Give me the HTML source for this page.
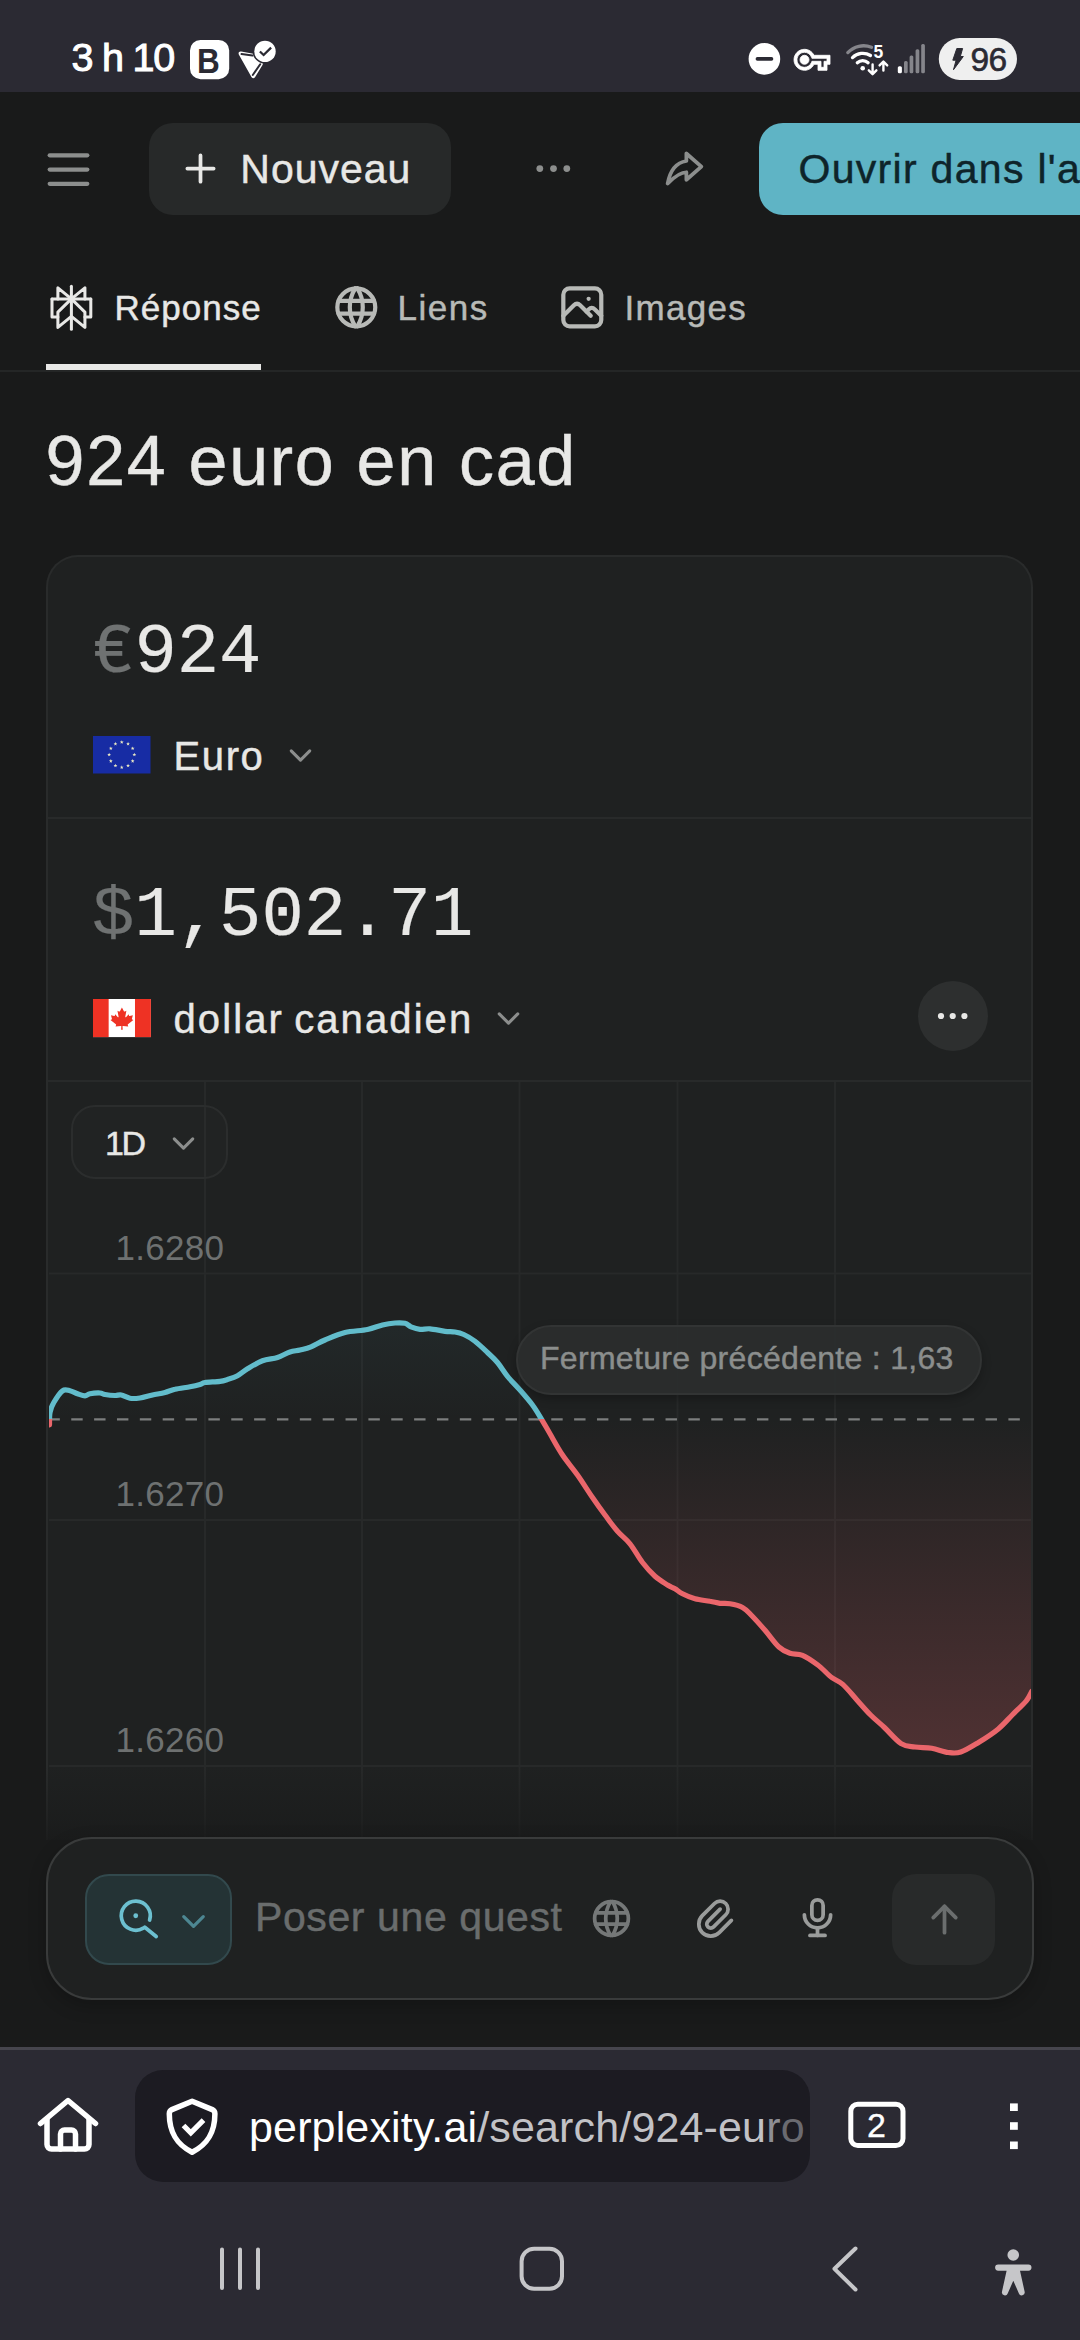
<!DOCTYPE html>
<html lang="fr">
<head>
<meta charset="utf-8">
<meta name="viewport" content="width=1080">
<title>924 euro en cad</title>
<style>
*{box-sizing:border-box;margin:0;padding:0}
html,body{width:1080px;height:2340px;overflow:hidden;background:#191a1a}
body{position:relative;font-family:"Liberation Sans",sans-serif;color:#e8e8e6}
.abs{position:absolute}
.t{position:absolute;white-space:pre;line-height:1}
.w{-webkit-text-stroke:.45px currentColor}
.amt{font-size:70.6px;color:#e8e8e6;font-family:"Liberation Mono",monospace;-webkit-text-stroke:.2px currentColor}
.amt .cur{color:#6f7272}
svg{position:absolute;overflow:visible}
.ic{fill:none;stroke-width:2;stroke-linecap:round;stroke-linejoin:round}
/* status bar */
#status{left:0;top:0;width:1080px;height:92px;background:#2b2a33}
/* header */
#btn-new{left:149px;top:123px;width:302px;height:92px;border-radius:24px;background:#272929}
#btn-open{left:759px;top:123px;width:360px;height:92px;border-radius:24px;background:#5fb4c5}
/* tabs */
#tab-line{left:0;top:370px;width:1080px;height:2px;background:#242626}
#tab-ul{left:46px;top:364px;width:215px;height:5.5px;background:#e8e8e6}
/* card */
#card{left:46px;top:555px;width:987px;height:1400px;border-radius:32px 32px 0 0;background:#1f2121;border:2px solid #292b2b;border-bottom:none}
.hsep{left:48px;width:983px;height:2px;background:#282a2a}
/* input */
#fade{left:0;top:1766px;width:1080px;height:74px;background:linear-gradient(to bottom,rgba(25,26,26,0),rgba(25,26,26,.5) 70%,rgba(25,26,26,.8))}
#below{left:0;top:1840px;width:1080px;height:210px;background:#191a1a}
#input{left:46px;top:1837px;width:988px;height:163px;border-radius:46px;background:#1f2121;border:2px solid #393b3b;box-shadow:0 6px 18px rgba(0,0,0,.22)}
#mode{left:85px;top:1874px;width:147px;height:91px;border-radius:24px;background:#243335;border:2px solid #32494d}
#send{left:892px;top:1874px;width:103px;height:91px;border-radius:24px;background:#282a2a}
/* browser bar */
#bbar{left:0;top:2047px;width:1080px;height:293px;background:#2b2a33;border-top:3px solid #46454d}
#url{left:135px;top:2070px;width:675px;height:112px;border-radius:28px;background:#1c1b22;overflow:hidden}
</style>
</head>
<body>
<!-- STATUS BAR -->
<div id="status" class="abs"></div>
<div class="t" id="clock" style="left:71.5px;top:38px;font-size:39.5px;color:#fff;letter-spacing:-1px;word-spacing:-.5px;-webkit-text-stroke:1px #fff">3 h 10</div>
<svg id="st-left" style="left:180px;top:30px" width="110" height="60" viewBox="180 30 110 60">
  <rect x="190" y="39.900" width="39.200" height="39.300" rx="10.500" fill="#fff"/>
  <path d="M241.200 51.500L262.500 55.500Q264.500 62 262.500 65L255 77.200Q253.300 79.500 251.600 77.200L238.800 54.500Q237.800 51 241.200 51.500Z" fill="#fff"/>
  <path d="M241.500 54.100L252.500 55.600" fill="none" stroke="#2b2a33" stroke-width="2" stroke-linecap="round"/>
  <path d="M252.800 75L260.200 64.200" fill="none" stroke="#2b2a33" stroke-width="2" stroke-linecap="round"/>
  <circle cx="265" cy="51.400" r="12.300" fill="#2b2a33"/>
  <circle cx="265" cy="51.400" r="10.700" fill="#fff"/>
  <path d="M259.900 51.500l3.700 3.500l7.500 -7.400" fill="none" stroke="#2b2a33" stroke-width="2.300"/>
</svg>
<div class="t" id="t-b" style="left:197.3px;top:42.5px;font-size:35px;font-weight:700;color:#2b2a33;transform:scaleX(.9);transform-origin:0 0">B</div>
<svg id="st-right" style="left:740px;top:30px" width="300" height="60" viewBox="740 30 300 60">
  <circle cx="764.400" cy="58.900" r="15.800" fill="#fff"/>
  <rect x="755.600" y="57.100" width="17.700" height="3.600" rx="1.800" fill="#2b2a33"/>
  <g transform="translate(794 41.800) scale(1.500)"><circle cx="7" cy="12" r="1.7" fill="#fff"/><path fill="#fff" stroke="#fff" stroke-width=".55" stroke-linejoin="round" d="M22 19h-6v-4h-2.680c-1.140 2.420-3.600 4-6.320 4-3.860 0-7-3.140-7-7s3.140-7 7-7c2.720 0 5.170 1.580 6.320 4H24v6h-2v4zm-4-2h2v-4h2v-2H11.940l-.230-.670C11.010 8.340 9.110 7 7 7c-2.760 0-5 2.240-5 5s2.240 5 5 5c2.110 0 4.010-1.340 4.710-3.330l.230-.670H18v4zM7 15c-1.650 0-3-1.350-3-3s1.350-3 3-3 3 1.350 3 3-1.350 3-3 3zm0-4c-.550 0-1 .450-1 1s.450 1 1 1 1-.450 1-1-.450-1-1-1z"/></g>
  <g fill="none" stroke-linecap="round" stroke-width="3.300">
    <path d="M847.800 52.600A21.500 21.500 0 0 1 871.500 47.300" stroke="#85858b"/>
    <path d="M852.500 57.600A14.800 14.800 0 0 1 870.500 55.500" stroke="#fff"/>
    <path d="M857.300 62.700A8 8 0 0 1 868.100 62.700" stroke="#fff"/>
  </g>
  <circle cx="862.700" cy="68.200" r="2.300" fill="#fff"/>
  <g fill="none" stroke="#fff" stroke-width="2.400" stroke-linecap="round" stroke-linejoin="round">
    <path d="M872.600 64.500v9M868.800 70.300l3.800 3.900l3.800 -3.900"/>
    <path d="M883.400 70.600v-9M879.600 65.400l3.800 -3.900l3.800 3.900"/>
  </g>
  <g fill="#85858b">
    <rect x="897.800" y="66.300" width="4.100" height="6.900" rx="1.500" fill="#fff"/>
    <rect x="904" y="61.100" width="3.700" height="12.100" rx="1.500"/>
    <rect x="909.600" y="55.500" width="3.700" height="17.700" rx="1.500"/>
    <rect x="915.600" y="49.300" width="3.700" height="23.900" rx="1.500"/>
    <rect x="921.200" y="44.100" width="3.700" height="29.100" rx="1.500"/>
  </g>
  <rect x="938.800" y="38.100" width="78.200" height="41.800" rx="20.900" fill="#efefef"/>
  <path d="M956.800 48.500h5.800l-2.300 8h3l-9.800 13.200l2.600 -9.500h-3.300z" fill="#2b2a33" stroke="#2b2a33" stroke-width="1" stroke-linejoin="round"/>
</svg>
<div class="t" id="t-5" style="left:873.500px;top:43.500px;font-size:17.500px;font-weight:700;color:#fff">5</div>
<div class="t" id="batt" style="left:970.5px;top:43px;font-size:33.5px;color:#2b2a33;letter-spacing:-.6px;-webkit-text-stroke:.6px #2b2a33">96</div>

<!-- HEADER -->
<svg id="i-menu" style="left:0;top:92px" width="140" height="150" viewBox="0 92 140 150"><g stroke="#8c8e8d" stroke-width="4.25" stroke-linecap="round"><line x1="49.7" y1="155.25" x2="87.3" y2="155.25"/><line x1="49.7" y1="169.5" x2="87.3" y2="169.5"/><line x1="49.7" y1="183.75" x2="87.3" y2="183.75"/></g></svg>
<div id="btn-new" class="abs"></div>
<svg id="i-plus" class="ic" stroke-width="1.55" style="left:177.5px;top:146.25px" width="45" height="45" viewBox="0 0 24 24" stroke="#e8e8e6"><path d="M12 5v14M5 12h14"/></svg>
<div class="t w" id="t-new" style="left:240.3px;top:148.5px;font-size:41px;color:#e8e8e6;letter-spacing:1px">Nouveau</div>
<svg id="i-dots" style="left:531.25px;top:146.25px" width="45" height="45" viewBox="0 0 24 24" fill="#8c8e8d"><circle cx="4.7" cy="12" r="1.8"/><circle cx="12" cy="12" r="1.8"/><circle cx="19.1" cy="12" r="1.8"/></svg>
<svg id="i-share" class="ic" stroke-width="1.75" style="left:662px;top:146.4px" width="45" height="45" viewBox="0 0 24 24" stroke="#8c8e8d"><path d="M13 4v4c-6.575 1.028 -9.02 6.788 -10 12c-.037 .206 5.384 -5.962 10 -6v4l8 -7l-8 -7z"/></svg>
<div id="btn-open" class="abs"></div>
<div class="t w" id="t-open" style="left:798.5px;top:148.5px;font-size:41px;color:#0e242a;letter-spacing:1.3px">Ouvrir dans l'a</div>

<!-- TABS -->
<svg id="i-pplx" style="left:48.2px;top:283.85px" width="46.8" height="46.8" viewBox="0 0 24 24" fill="none" stroke="#e8e8e6" stroke-width="1.55" stroke-linejoin="round" stroke-linecap="round"><path d="M12 1.100V23.200"/><path d="M2.050 7.670H21.950"/><path d="M5.070 7.670V1.950L12 7.670L18.930 1.950V7.670"/><path d="M5.070 16.900H2.050V7.670M18.930 16.900H21.950V7.670"/><path d="M12 7.670L5.070 14.400V22.250L12 16.600L18.930 22.250V14.400L12 7.670"/></svg>
<div class="t w" id="t-rep" style="left:114.5px;top:290px;font-size:35px;color:#e8e8e6;letter-spacing:1px">Réponse</div>
<svg id="i-globe1" class="ic" stroke-width="1.65" style="left:330.5px;top:282.4px" width="50.6" height="50.6" viewBox="0 0 24 24" stroke="#b8bab7"><path d="M3 12a9 9 0 1 0 18 0a9 9 0 0 0 -18 0"/><path d="M3.6 9h16.8"/><path d="M3.6 15h16.8"/><path d="M11.5 3a17 17 0 0 0 0 18"/><path d="M12.5 3a17 17 0 0 1 0 18"/></svg>
<div class="t w" id="t-liens" style="left:397.5px;top:290px;font-size:35px;color:#b8bab7;letter-spacing:1.5px">Liens</div>
<svg id="i-photo" class="ic" stroke-width="1.65" style="left:556.5px;top:282.4px" width="50.6" height="50.6" viewBox="0 0 24 24" stroke="#b8bab7"><path d="M15 8h.01"/><path d="M3 6a3 3 0 0 1 3 -3h12a3 3 0 0 1 3 3v12a3 3 0 0 1 -3 3h-12a3 3 0 0 1 -3 -3v-12z"/><path d="M3 16l5 -5c.928 -.893 2.072 -.893 3 0l5 5"/><path d="M14 14l1 -1c.928 -.893 2.072 -.893 3 0l3 3"/></svg>
<div class="t w" id="t-img" style="left:624.5px;top:290px;font-size:35px;color:#b8bab7;letter-spacing:1.3px">Images</div>
<div id="tab-line" class="abs"></div>
<div id="tab-ul" class="abs"></div>

<!-- TITLE -->
<div class="t w" id="title" style="left:45.5px;top:426px;font-size:70px;color:#e8e8e6;letter-spacing:1.7px">924 euro en cad</div>

<!-- CARD -->
<div id="card" class="abs"></div>
<div class="t amt" id="amt1" style="left:92px;top:618px"><span class="cur">€</span>924</div>
<svg id="f-eu" style="left:93.25px;top:736.25px" width="57.5" height="37.5" viewBox="0 0 57.5 37.5"><rect width="57.5" height="37.5" fill="#172ca4"/><g fill="#e9e7c4"><polygon points="28.75,4.15 29.25,5.46 30.65,5.53 29.56,6.41 29.93,7.77 28.75,7.00 27.57,7.77 27.94,6.41 26.85,5.53 28.25,5.46"/><polygon points="35.05,5.84 35.55,7.15 36.95,7.22 35.86,8.10 36.23,9.46 35.05,8.69 33.87,9.46 34.24,8.10 33.15,7.22 34.55,7.15"/><polygon points="39.66,10.45 40.16,11.76 41.56,11.83 40.47,12.71 40.84,14.07 39.66,13.30 38.49,14.07 38.85,12.71 37.76,11.83 39.16,11.76"/><polygon points="41.35,16.75 41.85,18.06 43.25,18.13 42.16,19.01 42.53,20.37 41.35,19.60 40.17,20.37 40.54,19.01 39.45,18.13 40.85,18.06"/><polygon points="39.66,23.05 40.16,24.36 41.56,24.43 40.47,25.31 40.84,26.67 39.66,25.90 38.49,26.67 38.85,25.31 37.76,24.43 39.16,24.36"/><polygon points="35.05,27.66 35.55,28.97 36.95,29.04 35.86,29.92 36.23,31.28 35.05,30.51 33.87,31.28 34.24,29.92 33.15,29.04 34.55,28.97"/><polygon points="28.75,29.35 29.25,30.66 30.65,30.73 29.56,31.61 29.93,32.97 28.75,32.20 27.57,32.97 27.94,31.61 26.85,30.73 28.25,30.66"/><polygon points="22.45,27.66 22.95,28.97 24.35,29.04 23.26,29.92 23.63,31.28 22.45,30.51 21.27,31.28 21.64,29.92 20.55,29.04 21.95,28.97"/><polygon points="17.84,23.05 18.34,24.36 19.74,24.43 18.65,25.31 19.01,26.67 17.84,25.90 16.66,26.67 17.03,25.31 15.94,24.43 17.34,24.36"/><polygon points="16.15,16.75 16.65,18.06 18.05,18.13 16.96,19.01 17.33,20.37 16.15,19.60 14.97,20.37 15.34,19.01 14.25,18.13 15.65,18.06"/><polygon points="17.84,10.45 18.34,11.76 19.74,11.83 18.65,12.71 19.01,14.07 17.84,13.30 16.66,14.07 17.03,12.71 15.94,11.83 17.34,11.76"/><polygon points="22.45,5.84 22.95,7.15 24.35,7.22 23.26,8.10 23.63,9.46 22.45,8.69 21.27,9.46 21.64,8.10 20.55,7.22 21.95,7.15"/></g></svg>
<div class="t w" id="cur1" style="left:173.5px;top:735.5px;font-size:40px;color:#e8e8e6;letter-spacing:1.6px">Euro</div>
<svg id="ch1" class="ic" style="left:282px;top:737px" width="37" height="37" viewBox="0 0 24 24" stroke="#8c8e8d"><path d="M6 9l6 6l6 -6"/></svg>
<div class="abs hsep" style="top:817px"></div>
<div class="t amt" id="amt2" style="left:92px;top:881px"><span class="cur">$</span>1,502.71</div>
<svg id="f-ca" style="left:93px;top:998.75px" width="57.9" height="38.1" viewBox="0 0 58.25 38.25" preserveAspectRatio="none"><rect width="58.25" height="38.25" fill="#fff"/><rect width="15.75" height="38.25" fill="#ee3224"/><rect x="42.25" width="16" height="38.25" fill="#ee3224"/><path fill="#ee3224" d="M29.1 8.5l-2 3.8c-.2.4-.6.4-1 .2l-1.500-.8 1.100 5.800c.2 1-.5 1-.9.600l-2.500-2.800-.4 1.400c0 .2-.3.400-.6.300l-3.200-.7.800 3c.2.700.3 1-.2 1.200l-1.100.5 5.400 4.400c.2.200.3.500.2.800l-.5 1.500 5.300-.6c.2 0 .5.200.5.400l-.2 3.500h1.600l-.2-3.500c0-.2.300-.4.500-.4l5.300.6-.5-1.500c-.1-.3 0-.6.200-.8l5.400-4.400-1.100-.5c-.5-.2-.4-.5-.2-1.200l.8-3-3.200.7c-.3.100-.6-.1-.6-.3l-.4-1.400-2.500 2.800c-.4.400-1.100.4-.9-.6l1.100-5.800-1.500.8c-.4.200-.8.200-1-.2z"/></svg>
<div class="t w" id="cur2" style="left:173.5px;top:999px;font-size:40px;color:#e8e8e6;letter-spacing:2.1px;word-spacing:-3px">dollar canadien</div>
<svg id="ch2" class="ic" style="left:490px;top:1000px" width="37" height="37" viewBox="0 0 24 24" stroke="#8c8e8d"><path d="M6 9l6 6l6 -6"/></svg>
<div class="abs" id="more" style="left:917.5px;top:981px;width:70px;height:70px;border-radius:50%;background:#2d2f2f"></div>
<svg id="more-dots" style="left:917.5px;top:981px" width="70" height="70" viewBox="0 0 70 70" fill="#e8e8e6"><circle cx="23" cy="35" r="3.1"/><circle cx="34.7" cy="35" r="3.1"/><circle cx="46.4" cy="35" r="3.1"/></svg>
<div class="abs hsep" style="top:1080px"></div>

<!-- CHART -->
<svg id="chart" style="left:0;top:0" width="1080" height="2340" viewBox="0 0 1080 2340">
  <defs>
    <linearGradient id="gfill" gradientUnits="userSpaceOnUse" x1="0" y1="1323" x2="0" y2="1753">
      <stop offset="0" stop-color="#5fb8c8" stop-opacity=".05"/>
      <stop offset=".223" stop-color="#5fb8c8" stop-opacity="0"/>
      <stop offset=".223" stop-color="#e8646a" stop-opacity="0"/>
      <stop offset="1" stop-color="#e8646a" stop-opacity=".24"/>
    </linearGradient>
    <linearGradient id="gline" gradientUnits="userSpaceOnUse" x1="0" y1="1323" x2="0" y2="1753">
      <stop offset=".223" stop-color="#62bccb"/>
      <stop offset=".223" stop-color="#ea666b"/>
    </linearGradient>
    <clipPath id="cclip"><rect x="49" y="1082" width="982" height="760"/></clipPath>
  </defs>
  <g stroke="#272929" stroke-width="2">
    <line x1="205" y1="1082" x2="205" y2="1840"/>
    <line x1="362" y1="1082" x2="362" y2="1840"/>
    <line x1="519.5" y1="1082" x2="519.5" y2="1840"/>
    <line x1="677.5" y1="1082" x2="677.5" y2="1840"/>
    <line x1="835" y1="1082" x2="835" y2="1840"/>
    <line x1="49" y1="1273.5" x2="1031" y2="1273.5"/>
    <line x1="49" y1="1520" x2="1031" y2="1520"/>
    <line x1="49" y1="1766" x2="1031" y2="1766"/>
  </g>
  <g clip-path="url(#cclip)">
    <path id="area" fill="url(#gfill)" d="M49.5 1425.0C49.6 1422.9 49.3 1416.2 50.0 1412.5C50.7 1408.8 51.7 1406.1 53.8 1402.5C55.9 1398.9 59.8 1392.8 62.5 1390.8C65.2 1388.8 67.5 1390.3 70.0 1390.8C72.5 1391.3 75.0 1393.0 77.5 1393.8C80.0 1394.6 82.9 1395.8 85.0 1395.8C87.1 1395.8 87.5 1394.3 90.0 1393.8C92.5 1393.3 97.5 1392.9 100.0 1393.0C102.5 1393.1 102.5 1394.1 105.0 1394.5C107.5 1394.9 112.3 1395.4 115.0 1395.5C117.7 1395.6 118.8 1394.5 121.3 1395.0C123.8 1395.5 126.9 1397.8 130.0 1398.3C133.1 1398.8 136.2 1398.5 140.0 1398.0C143.8 1397.5 148.3 1395.9 152.5 1395.0C156.7 1394.1 161.2 1393.5 165.0 1392.5C168.8 1391.5 170.8 1390.2 175.0 1389.3C179.2 1388.3 185.8 1387.6 190.0 1386.8C194.2 1386.0 197.5 1385.2 200.0 1384.5C202.5 1383.8 201.7 1383.0 205.0 1382.5C208.3 1382.0 216.2 1381.8 220.0 1381.3C223.8 1380.8 224.6 1380.4 227.5 1379.5C230.4 1378.6 234.2 1377.6 237.5 1375.8C240.8 1374.0 243.3 1371.3 247.5 1368.8C251.7 1366.3 257.5 1362.7 262.5 1360.8C267.5 1358.9 272.9 1359.0 277.5 1357.5C282.1 1356.0 286.2 1353.2 290.0 1352.0C293.8 1350.8 296.5 1350.9 300.0 1350.0C303.5 1349.1 306.8 1348.5 311.0 1346.8C315.2 1345.1 319.3 1342.4 325.0 1340.0C330.7 1337.6 337.9 1334.2 345.0 1332.5C352.1 1330.8 361.2 1330.8 367.5 1329.5C373.8 1328.2 377.9 1326.1 382.5 1325.0C387.1 1323.9 391.2 1323.3 395.0 1323.0C398.8 1322.7 402.3 1322.7 405.0 1323.3C407.7 1323.9 408.5 1325.8 411.0 1326.8C413.5 1327.8 416.8 1329.0 420.0 1329.3C423.2 1329.6 425.8 1328.5 430.0 1328.8C434.2 1329.1 440.8 1330.8 445.0 1331.3C449.2 1331.8 451.9 1331.5 455.0 1332.0C458.1 1332.5 460.5 1333.0 463.8 1334.5C467.1 1336.0 471.1 1338.3 475.0 1341.3C478.9 1344.3 483.8 1349.0 487.5 1352.5C491.2 1356.0 494.2 1358.5 497.5 1362.5C500.8 1366.5 503.8 1371.7 507.5 1376.3C511.2 1380.9 515.8 1385.2 520.0 1390.0C524.2 1394.8 529.0 1400.2 532.5 1405.0C536.0 1409.8 538.4 1414.0 541.3 1418.8C544.2 1423.6 546.5 1427.8 550.0 1433.8C553.5 1439.8 557.9 1448.1 562.5 1455.0C567.1 1461.9 572.5 1467.9 577.5 1475.0C582.5 1482.1 587.9 1490.8 592.5 1497.5C597.1 1504.2 600.8 1509.4 605.0 1515.0C609.2 1520.6 613.3 1526.5 617.5 1531.3C621.7 1536.1 625.8 1538.6 630.0 1543.8C634.2 1549.0 638.3 1557.1 642.5 1562.5C646.7 1567.9 650.8 1572.5 655.0 1576.3C659.2 1580.0 664.2 1582.9 667.5 1585.0C670.8 1587.1 672.5 1587.3 675.0 1588.8C677.5 1590.3 679.2 1592.1 682.5 1593.8C685.8 1595.5 690.4 1597.5 695.0 1598.8C699.6 1600.0 705.8 1600.5 710.0 1601.3C714.2 1602.0 716.7 1602.9 720.0 1603.3C723.3 1603.7 726.2 1603.1 730.0 1603.8C733.8 1604.5 739.0 1605.6 742.5 1607.5C746.0 1609.4 747.4 1611.2 751.1 1615.0C754.9 1618.8 760.4 1625.0 765.0 1630.3C769.6 1635.6 774.7 1643.2 778.9 1647.0C783.1 1650.8 786.1 1651.9 790.0 1653.3C793.9 1654.7 797.9 1653.3 802.5 1655.3C807.1 1657.2 812.9 1661.3 817.8 1665.0C822.7 1668.7 827.5 1674.3 831.7 1677.5C835.9 1680.7 838.6 1680.7 842.8 1684.4C847.0 1688.1 852.1 1694.6 856.7 1699.7C861.3 1704.8 866.0 1710.4 870.6 1715.0C875.2 1719.6 879.3 1722.7 884.4 1727.5C889.5 1732.3 896.0 1740.3 901.1 1743.6C906.2 1746.8 909.9 1746.2 915.0 1747.0C920.1 1747.8 926.2 1747.4 931.7 1748.3C937.2 1749.2 943.4 1751.9 948.3 1752.5C953.1 1753.1 955.7 1753.7 960.8 1752.0C965.9 1750.3 972.6 1746.0 978.9 1742.2C985.1 1738.4 992.8 1733.4 998.3 1728.9C1003.8 1724.4 1007.6 1719.6 1012.2 1715.0C1016.8 1710.4 1022.8 1705.0 1026.1 1701.1C1029.3 1697.2 1030.8 1693.0 1031.7 1691.4L1031.7 1419.3L49.5 1419.3Z"/>
    <line x1="48.4" y1="1419.3" x2="1033" y2="1419.3" stroke="#7c7e7e" stroke-width="2.2" stroke-dasharray="11.43 11.427"/>
    <path id="line" fill="none" stroke="url(#gline)" stroke-width="5.2" stroke-linejoin="round" stroke-linecap="round" d="M49.5 1425.0C49.6 1422.9 49.3 1416.2 50.0 1412.5C50.7 1408.8 51.7 1406.1 53.8 1402.5C55.9 1398.9 59.8 1392.8 62.5 1390.8C65.2 1388.8 67.5 1390.3 70.0 1390.8C72.5 1391.3 75.0 1393.0 77.5 1393.8C80.0 1394.6 82.9 1395.8 85.0 1395.8C87.1 1395.8 87.5 1394.3 90.0 1393.8C92.5 1393.3 97.5 1392.9 100.0 1393.0C102.5 1393.1 102.5 1394.1 105.0 1394.5C107.5 1394.9 112.3 1395.4 115.0 1395.5C117.7 1395.6 118.8 1394.5 121.3 1395.0C123.8 1395.5 126.9 1397.8 130.0 1398.3C133.1 1398.8 136.2 1398.5 140.0 1398.0C143.8 1397.5 148.3 1395.9 152.5 1395.0C156.7 1394.1 161.2 1393.5 165.0 1392.5C168.8 1391.5 170.8 1390.2 175.0 1389.3C179.2 1388.3 185.8 1387.6 190.0 1386.8C194.2 1386.0 197.5 1385.2 200.0 1384.5C202.5 1383.8 201.7 1383.0 205.0 1382.5C208.3 1382.0 216.2 1381.8 220.0 1381.3C223.8 1380.8 224.6 1380.4 227.5 1379.5C230.4 1378.6 234.2 1377.6 237.5 1375.8C240.8 1374.0 243.3 1371.3 247.5 1368.8C251.7 1366.3 257.5 1362.7 262.5 1360.8C267.5 1358.9 272.9 1359.0 277.5 1357.5C282.1 1356.0 286.2 1353.2 290.0 1352.0C293.8 1350.8 296.5 1350.9 300.0 1350.0C303.5 1349.1 306.8 1348.5 311.0 1346.8C315.2 1345.1 319.3 1342.4 325.0 1340.0C330.7 1337.6 337.9 1334.2 345.0 1332.5C352.1 1330.8 361.2 1330.8 367.5 1329.5C373.8 1328.2 377.9 1326.1 382.5 1325.0C387.1 1323.9 391.2 1323.3 395.0 1323.0C398.8 1322.7 402.3 1322.7 405.0 1323.3C407.7 1323.9 408.5 1325.8 411.0 1326.8C413.5 1327.8 416.8 1329.0 420.0 1329.3C423.2 1329.6 425.8 1328.5 430.0 1328.8C434.2 1329.1 440.8 1330.8 445.0 1331.3C449.2 1331.8 451.9 1331.5 455.0 1332.0C458.1 1332.5 460.5 1333.0 463.8 1334.5C467.1 1336.0 471.1 1338.3 475.0 1341.3C478.9 1344.3 483.8 1349.0 487.5 1352.5C491.2 1356.0 494.2 1358.5 497.5 1362.5C500.8 1366.5 503.8 1371.7 507.5 1376.3C511.2 1380.9 515.8 1385.2 520.0 1390.0C524.2 1394.8 529.0 1400.2 532.5 1405.0C536.0 1409.8 538.4 1414.0 541.3 1418.8C544.2 1423.6 546.5 1427.8 550.0 1433.8C553.5 1439.8 557.9 1448.1 562.5 1455.0C567.1 1461.9 572.5 1467.9 577.5 1475.0C582.5 1482.1 587.9 1490.8 592.5 1497.5C597.1 1504.2 600.8 1509.4 605.0 1515.0C609.2 1520.6 613.3 1526.5 617.5 1531.3C621.7 1536.1 625.8 1538.6 630.0 1543.8C634.2 1549.0 638.3 1557.1 642.5 1562.5C646.7 1567.9 650.8 1572.5 655.0 1576.3C659.2 1580.0 664.2 1582.9 667.5 1585.0C670.8 1587.1 672.5 1587.3 675.0 1588.8C677.5 1590.3 679.2 1592.1 682.5 1593.8C685.8 1595.5 690.4 1597.5 695.0 1598.8C699.6 1600.0 705.8 1600.5 710.0 1601.3C714.2 1602.0 716.7 1602.9 720.0 1603.3C723.3 1603.7 726.2 1603.1 730.0 1603.8C733.8 1604.5 739.0 1605.6 742.5 1607.5C746.0 1609.4 747.4 1611.2 751.1 1615.0C754.9 1618.8 760.4 1625.0 765.0 1630.3C769.6 1635.6 774.7 1643.2 778.9 1647.0C783.1 1650.8 786.1 1651.9 790.0 1653.3C793.9 1654.7 797.9 1653.3 802.5 1655.3C807.1 1657.2 812.9 1661.3 817.8 1665.0C822.7 1668.7 827.5 1674.3 831.7 1677.5C835.9 1680.7 838.6 1680.7 842.8 1684.4C847.0 1688.1 852.1 1694.6 856.7 1699.7C861.3 1704.8 866.0 1710.4 870.6 1715.0C875.2 1719.6 879.3 1722.7 884.4 1727.5C889.5 1732.3 896.0 1740.3 901.1 1743.6C906.2 1746.8 909.9 1746.2 915.0 1747.0C920.1 1747.8 926.2 1747.4 931.7 1748.3C937.2 1749.2 943.4 1751.9 948.3 1752.5C953.1 1753.1 955.7 1753.7 960.8 1752.0C965.9 1750.3 972.6 1746.0 978.9 1742.2C985.1 1738.4 992.8 1733.4 998.3 1728.9C1003.8 1724.4 1007.6 1719.6 1012.2 1715.0C1016.8 1710.4 1022.8 1705.0 1026.1 1701.1C1029.3 1697.2 1030.8 1693.0 1031.7 1691.4"/>
  </g>
</svg>
<div class="abs" id="pill1d" style="left:71px;top:1105px;width:157px;height:73.5px;border-radius:24px;background:rgba(255,255,255,.012);border:2px solid #2b2d2d"></div>
<div class="t w" id="t-1d" style="left:105px;top:1125.5px;font-size:34px;color:#e8e8e6;letter-spacing:-2.5px">1D</div>
<svg id="ch3" class="ic" style="left:164.5px;top:1124.5px" width="37" height="37" viewBox="0 0 24 24" stroke="#8c8e8d"><path d="M6 9l6 6l6 -6"/></svg>
<div class="t ylab" id="y1" style="left:115.5px;top:1229.5px;font-size:35px;color:#6e7171;letter-spacing:.3px">1.6280</div>
<div class="t ylab" id="y2" style="left:115.5px;top:1475.5px;font-size:35px;color:#6e7171;letter-spacing:.3px">1.6270</div>
<div class="t ylab" id="y3" style="left:115.5px;top:1721.5px;font-size:35px;color:#6e7171;letter-spacing:.3px">1.6260</div>
<div class="abs" id="tip" style="left:516px;top:1325px;width:466px;height:70px;border-radius:35px;background:rgba(43,45,45,.93);border:2px solid #323434;box-shadow:0 4px 10px rgba(0,0,0,.25)"></div>
<div class="t w" id="t-tip" style="left:540px;top:1342px;font-size:32px;color:#8b8e8d;letter-spacing:.3px">Fermeture précédente : 1,63</div>

<!-- INPUT -->
<div id="fade" class="abs"></div>
<div id="below" class="abs"></div>
<div id="input" class="abs"></div>
<div id="mode" class="abs"></div>
<svg id="i-search" style="left:110px;top:1890px" width="60" height="60" viewBox="110 1890 60 60" fill="none" stroke="#6cc0d0" stroke-width="3.700" stroke-linecap="round"><path d="M149.600 1920.100A14.500 14.500 0 1 0 143.300 1928.100"/><path d="M144.800 1927.200l11.400 9.300"/><circle cx="135.75" cy="1915.75" r="2.4" fill="#6cc0d0" stroke="none"/></svg>
<svg id="ch4" class="ic" style="left:173.5px;top:1902.3px" width="39" height="39" viewBox="0 0 24 24" stroke="#4d8792"><path d="M6 9l6 6l6 -6"/></svg>
<div class="t w" id="t-ask" style="left:255px;top:1897px;font-size:41px;color:#6a6d6d;letter-spacing:.6px">Poser une quest</div>
<svg id="i-globe2" class="ic" stroke-width="1.62" style="left:588.50px;top:1895.80px" width="45" height="45" viewBox="0 0 24 24" stroke="#757878"><path d="M3 12a9 9 0 1 0 18 0a9 9 0 0 0 -18 0"/><path d="M3.6 9h16.8"/><path d="M3.6 15h16.8"/><path d="M11.5 3a17 17 0 0 0 0 18"/><path d="M12.5 3a17 17 0 0 1 0 18"/></svg>
<svg id="i-clip" class="ic" stroke-width="1.62" style="left:692.30px;top:1895.80px" width="45" height="45" viewBox="0 0 24 24" stroke="#9a9c9b"><path d="M15 7l-6.5 6.5a1.5 1.5 0 0 0 3 3l6.500 -6.500a3 3 0 0 0 -6 -6l-6.500 6.500a4.500 4.500 0 0 0 9 9l6.500 -6.500"/></svg>
<svg id="i-mic" class="ic" stroke-width="1.62" style="left:794.50px;top:1895.80px" width="45" height="45" viewBox="0 0 24 24" stroke="#9a9c9b"><path d="M9 5a3 3 0 0 1 3 -3a3 3 0 0 1 3 3v5a3 3 0 0 1 -3 3a3 3 0 0 1 -3 -3z"/><path d="M5 10a7 7 0 0 0 14 0"/><path d="M8 21h8"/><path d="M12 17v4"/></svg>
<div id="send" class="abs"></div>
<svg id="i-up" class="ic" stroke-width="1.75" style="left:921.75px;top:1896.5px" width="45" height="45" viewBox="0 0 24 24" stroke="#6b6e6e"><path d="M12 5v14"/><path d="M18 11l-6 -6"/><path d="M6 11l6 -6"/></svg>

<!-- BROWSER BAR -->
<div id="bbar" class="abs"></div>
<svg id="i-home" style="left:30px;top:2090px" width="80" height="70" viewBox="30 2090 80 70" fill="none" stroke="#fff" stroke-width="5.5" stroke-linejoin="round" stroke-linecap="round"><path d="M40.500 2123.500L68 2100.500L95.500 2123.500"/><path d="M47 2119v25.500a4.500 4.500 0 0 0 4.500 4.500h33a4.500 4.500 0 0 0 4.500 -4.500v-25.500"/><path d="M60.500 2149v-15a4 4 0 0 1 4 -4h7a4 4 0 0 1 4 4v15"/></svg>
<div id="url" class="abs"></div>
<svg id="i-shield" style="left:160px;top:2090px" width="70" height="70" viewBox="160 2090 70 70" fill="none" stroke="#fff" stroke-width="5.500" stroke-linejoin="round" stroke-linecap="round"><path d="M192.100 2101.300L212.300 2109.600Q214.900 2110.800 214.900 2113.800C214.900 2133 207.300 2144.500 192.100 2152.200C176.900 2144.500 169.300 2133 169.300 2113.800Q169.300 2110.800 171.900 2109.600Z"/><path d="M183.500 2125.500l7.300 7.300l12.700 -12.700" stroke-width="5.200" stroke-linecap="butt" stroke-linejoin="miter"/></svg>
<div class="t" id="t-url" style="left:249px;top:2106px;font-size:43px;color:#fff;letter-spacing:.15px"><span>perplexity.ai</span><span style="color:#c2c2c6">/search/924-eu</span><span style="color:#8e8e94">r</span><span style="color:#6a6a70">o</span></div>
<svg id="i-tabs" style="left:840px;top:2090px" width="80" height="70" viewBox="840 2090 80 70" fill="none" stroke="#fff" stroke-width="5"><rect x="850.800" y="2104.200" width="52.200" height="41.300" rx="7"/></svg>
<div class="t" id="t-tabs" style="left:867px;top:2107.5px;font-size:34px;color:#fff;-webkit-text-stroke:.3px #fff">2</div>
<svg id="i-kebab" style="left:1000px;top:2095px" width="30" height="60" viewBox="1000 2095 30 60" fill="#fff"><rect x="1010" y="2103.400" width="7.800" height="7.600"/><rect x="1010" y="2122.200" width="7.800" height="7.600"/><rect x="1010" y="2141.500" width="7.800" height="7.600"/></svg>

<!-- NAV BAR -->
<svg id="nav" style="left:0;top:2200px" width="1080" height="140" viewBox="0 2200 1080 140" fill="none" stroke="#c6c6c9" stroke-width="4" stroke-linecap="round" stroke-linejoin="round">
  <path d="M222 2249.500v38.500M240 2249.500v38.500M258 2249.500v38.500"/>
  <rect x="521.600" y="2248.700" width="40.400" height="40.100" rx="12.500"/>
  <path d="M855.500 2248.500L834.500 2268.800L855.500 2289.500"/>
  <g fill="#c6c6c9" stroke="none">
    <circle cx="1013.250" cy="2255" r="5.800"/>
    <path d="M998.200 2264.500h30.200a3.100 3.100 0 0 1 0 6.200h-8.400l4.700 21.300a3 3 0 0 1 -5.800 1.400l-5.600 -12.600l-5.600 12.600a3 3 0 0 1 -5.800 -1.400l4.700 -21.300h-8.400a3.100 3.100 0 0 1 0 -6.200z"/>
  </g>
</svg>

</body>
</html>
